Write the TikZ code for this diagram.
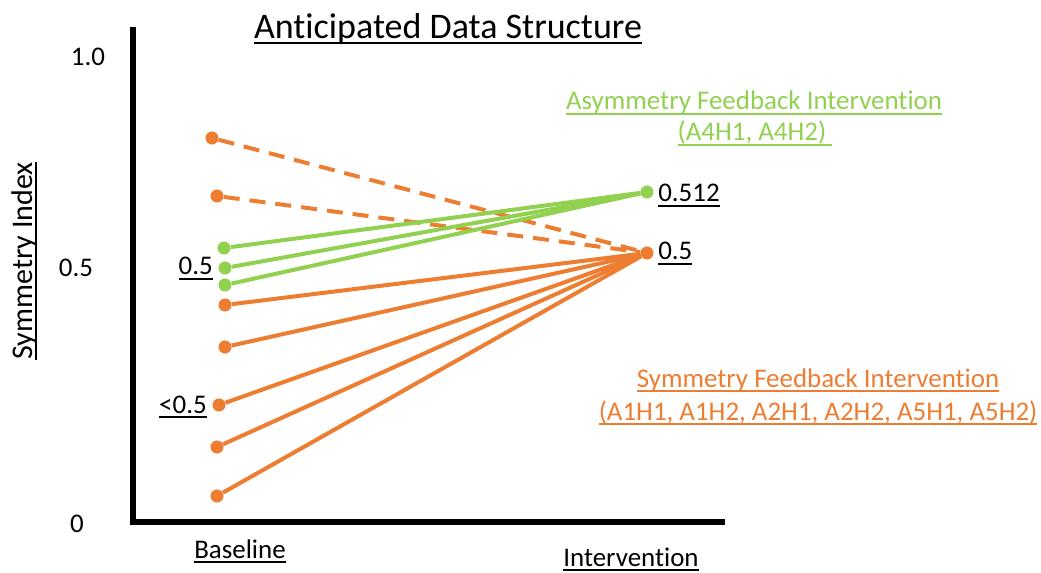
\documentclass[tikz,border=0pt]{standalone}
\usepackage{fontspec}
\setmainfont{Carlito}[Ligatures=NoCommon]
\definecolor{sforange}{HTML}{ED7D31}
\definecolor{afgreen}{HTML}{92D050}
% underlined text: a thin rule a little below the baseline
\newcommand\ulx[1]{\setbox0\hbox{#1}\leavevmode\rlap{\rule[-3.6pt]{\wd0}{1.1pt}}\box0}
\begin{document}
\begin{tikzpicture}[x=0.75pt,y=-0.75pt,
  lbl/.style={inner sep=0pt, anchor=base, font=\fontsize{20.2}{24}\selectfont},
  dot/.style={circle, fill=#1, inner sep=0pt, minimum size=9.8pt},
  link/.style={line width=3pt, draw=#1},
  dlink/.style={line width=3pt, draw=sforange, dash pattern=on 12pt off 7.5pt},
  axis/.style={line width=4.5pt, line cap=rect}]
\useasboundingbox (0,0) rectangle (1041,573);

% title
\node[lbl, font=\fontsize{27}{32}\selectfont] (title) at (448,39) {\ulx{Anticipated Data Structure}};

% axes
\coordinate (ytop) at (133,30);
\coordinate (orig) at (133,522);
\coordinate (xend) at (722,522);
\draw[axis] (ytop) -- (orig) -- (xend);

% axis labels
\node[lbl] (t10) at (88,66) {1.0};
\node[lbl] (t05) at (76,277) {0.5};
\node[lbl] (t00) at (77,532) {0};
\node[lbl, rotate=90, font=\fontsize{22.5}{27}\selectfont] (ylab) at (32,261) {\ulx{Symmetry Index}};
\node[lbl] (xbase) at (240,558) {\ulx{Baseline}};
\node[lbl] (xint) at (631,566) {\ulx{Intervention}};

% intervention end points
\node[dot=afgreen] (ig) at (647,192) {};
\node[dot=sforange] (io) at (647,253) {};
\node[lbl, anchor=base west] (v512) at (658,202) {\ulx{0.512}};
\node[lbl, anchor=base west] (v05) at (658,260) {\ulx{0.5}};

% baseline points
\node[dot=sforange] (d1) at (212,138) {};
\node[dot=sforange] (d2) at (217,196) {};
\node[dot=afgreen] (g1) at (224,248) {};
\node[dot=afgreen] (g2) at (225,268) {};
\node[dot=afgreen] (g3) at (225,285) {};
\node[dot=sforange] (o1) at (225,305) {};
\node[dot=sforange] (o2) at (225,347) {};
\node[dot=sforange] (o3) at (219,405) {};
\node[dot=sforange] (o4) at (217,447) {};
\node[dot=sforange] (o5) at (217,496) {};

\node[lbl, anchor=base east] (b05) at (213,275) {\ulx{0.5}};
\node[lbl, anchor=base east] (blt) at (207,413) {\ulx{<0.5}};

% connectors
\draw[dlink] (d1) -- (io);
\draw[dlink] (d2) -- (io);
\foreach \p in {g1,g2,g3} \draw[link=afgreen] (\p) -- (ig);
\foreach \p in {o1,o2,o3,o4,o5} \draw[link=sforange] (\p) -- (io);

% group captions
\node[lbl, text=afgreen] (gcap1) at (754,110) {\ulx{Asymmetry Feedback Intervention}};
\node[lbl, text=afgreen] (gcap2) at (755,141) {\ulx{(A4H1, A4H2)~}};
\node[lbl, text=sforange] (ocap1) at (818,387) {\ulx{Symmetry Feedback Intervention}};
\node[lbl, text=sforange] (ocap2) at (818,420) {\ulx{(A1H1, A1H2, A2H1, A2H2, A5H1, A5H2)}};
\end{tikzpicture}
\end{document}
